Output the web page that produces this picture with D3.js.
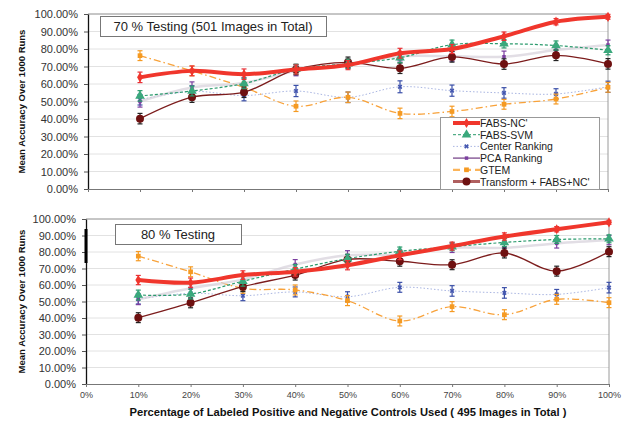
<!DOCTYPE html>
<html>
<head>
<meta charset="utf-8">
<script src="https://cdn.jsdelivr.net/npm/d3@7"></script>
<style>
  body { margin: 0; background: #fff; }
  svg { font-family: "Liberation Sans", Arial, sans-serif; }
</style>
</head>
<body>
<svg id="chart" width="622" height="421"></svg>
<script>
// ---- data ----
var xPercent = [10, 20, 30, 40, 50, 60, 70, 80, 90, 100];
var xTickValues = [0, 10, 20, 30, 40, 50, 60, 70, 80, 90, 100];
var yTickValues = [0, 10, 20, 30, 40, 50, 60, 70, 80, 90, 100];
var seriesNames = ["FABS-NC'", 'FABS-SVM', 'Center Ranking', 'PCA Ranking', 'GTEM', "Transform + FABS+NC'"];
var panelTitles = ['70 % Testing (501 Images in Total)', '80 % Testing'];
var xTitle = 'Percentage of Labeled Positive and Negative Controls Used ( 495 Images in Total )';
var yTitle = 'Mean Accuracy Over 1000 Runs';

// 70 % testing
var t70FabsNc     = [63.8, 67.5, 65.6, 68.3, 70.8, 77.6, 80.0, 87.3, 95.6, 98.4];
var t70FabsSvm    = [53.2, 56.0, 60.3, 68.5, 71.6, 75.0, 82.5, 83.0, 82.0, 79.3];
var t70Center     = [51.0, 55.8, 53.4, 56.0, 52.4, 58.4, 56.2, 54.9, 54.3, 58.4];
var t70Pca        = [50.0, 58.0, 60.6, 67.5, 71.6, 75.8, 75.8, 75.6, 79.4, 82.3];
var t70Gtem       = [76.2, 67.5, 58.1, 47.3, 52.4, 43.2, 44.3, 48.4, 51.4, 58.1];
var t70Transform  = [40.2, 52.5, 55.3, 68.3, 72.4, 69.0, 75.5, 71.4, 76.4, 71.5];
var t70ErrFabsNc    = [3.0, 2.8, 3.0, 2.6, 2.6, 2.8, 2.6, 2.4, 1.8, 1.4];
var t70ErrFabsSvm   = [3.0, 2.8, 3.0, 2.6, 2.6, 2.8, 2.6, 2.4, 2.6, 2.6];
var t70ErrCenter    = [3.0, 3.2, 3.0, 3.2, 3.0, 3.4, 3.2, 3.0, 3.0, 3.2];
var t70ErrPca       = [3.2, 3.2, 3.0, 2.8, 2.6, 2.6, 2.8, 3.2, 2.8, 2.8];
var t70ErrGtem      = [2.8, 2.8, 3.0, 3.0, 3.0, 3.0, 3.0, 2.8, 2.8, 2.8];
var t70ErrTransform = [3.0, 3.0, 3.0, 3.0, 3.0, 3.0, 3.0, 3.0, 3.0, 3.0];

// 80 % testing
var t80FabsNc     = [63.0, 61.4, 66.0, 68.0, 72.0, 78.0, 83.6, 89.4, 93.8, 98.0];
var t80FabsSvm    = [53.9, 54.5, 62.3, 69.6, 76.0, 80.4, 83.2, 85.8, 87.6, 88.0];
var t80Center     = [51.5, 55.0, 53.5, 55.8, 52.9, 58.6, 56.4, 55.2, 54.3, 58.4];
var t80Pca        = [51.3, 58.0, 63.4, 72.4, 78.0, 78.4, 82.5, 82.5, 85.2, 87.2];
var t80Gtem       = [77.5, 68.0, 58.0, 57.0, 50.5, 38.2, 46.9, 42.0, 51.3, 49.3];
var t80Transform  = [40.2, 49.2, 59.0, 66.0, 75.5, 74.4, 72.3, 79.4, 68.4, 80.2];
var t80ErrFabsNc    = [2.8, 2.8, 2.6, 2.6, 2.8, 2.6, 2.4, 2.2, 1.6, 1.2];
var t80ErrFabsSvm   = [3.0, 3.0, 3.0, 2.8, 2.6, 2.6, 2.4, 2.4, 2.4, 2.4];
var t80ErrCenter    = [3.0, 3.4, 3.0, 3.0, 3.0, 3.0, 3.2, 3.2, 3.0, 3.2];
var t80ErrPca       = [3.2, 3.2, 3.0, 3.0, 2.8, 2.8, 2.8, 3.0, 2.8, 2.8];
var t80ErrGtem      = [2.8, 3.0, 3.0, 3.0, 3.0, 3.0, 3.0, 3.0, 3.0, 3.0];
var t80ErrTransform = [3.0, 3.0, 3.0, 3.0, 3.0, 3.0, 3.0, 3.0, 3.0, 3.0];

// ---- styles ----
var styles = [
  { line: '#f0362c', width: 4,   dash: null,           opacity: 1,   marker: 'diamond',  mfill: '#f0362c', msize: 30, err: '#e8323a' },
  { line: '#2a9a6c', width: 1.2, dash: '3,2',          opacity: 1,   marker: 'triangle', mfill: '#3aa87c', msize: 40, err: '#2a9a6c' },
  { line: '#aab6e2', width: 1,   dash: '1.5,2',        opacity: 1,   marker: 'cross',    mfill: '#4457b0', msize: 14, err: '#3a4fa8' },
  { line: '#d6d0da', width: 2.5, dash: null,           opacity: 0.7, marker: 'square',   mfill: '#7b3fa0', msize: 12, err: '#7b3fa0' },
  { line: '#f8a23a', width: 1.3, dash: '7,3,1.5,3',    opacity: 1,   marker: 'square',   mfill: '#f59a22', msize: 22, err: '#f59a22' },
  { line: '#7c1c1c', width: 1.3, dash: null,           opacity: 1,   marker: 'circle',   mfill: '#6e1010', msize: 50, err: '#222222' }
];
var legendStyles = [
  { line: '#f0362c', width: 4 },
  { line: '#2a9a6c', width: 1, dash: '3,2' },
  { line: '#aab6e2', width: 1, dash: '1.5,2' },
  { line: '#7b4a8c', width: 1.3 },
  { line: '#fbb45a', width: 2.2, dash: '7,4' },
  { line: '#b06060', width: 3 }
];

var panels = [
  { title: panelTitles[0], left: 88, right: 608, top: 14, bottom: 189,
    titleBox: [100, 16, 226, 20], showXLabels: false, legend: true,
    values: [t70FabsNc, t70FabsSvm, t70Center, t70Pca, t70Gtem, t70Transform],
    errors: [t70ErrFabsNc, t70ErrFabsSvm, t70ErrCenter, t70ErrPca, t70ErrGtem, t70ErrTransform] },
  { title: panelTitles[1], left: 86, right: 609, top: 219, bottom: 384,
    titleBox: [115, 224, 126, 20], showXLabels: true, legend: false,
    values: [t80FabsNc, t80FabsSvm, t80Center, t80Pca, t80Gtem, t80Transform],
    errors: [t80ErrFabsNc, t80ErrFabsSvm, t80ErrCenter, t80ErrPca, t80ErrGtem, t80ErrTransform] }
];

var svg = d3.select('#chart');

function symbolFor(name) {
  if (name === 'diamond') return d3.symbolDiamond;
  if (name === 'triangle') return d3.symbolTriangle;
  if (name === 'square') return d3.symbolSquare;
  if (name === 'cross') return d3.symbolCross;
  return d3.symbolCircle;
}

// draw order: back to front
var drawOrder = [2, 4, 3, 5, 1, 0];

panels.forEach(function (p) {
  var x = d3.scaleLinear().domain([0, 100]).range([p.left, p.right]);
  var y = d3.scaleLinear().domain([0, 100]).range([p.bottom, p.top]);
  var g = svg.append('g');

  // gridlines
  g.selectAll('.grid').data(yTickValues.slice(1)).enter().append('line')
    .attr('x1', p.left).attr('x2', p.right)
    .attr('y1', function (d) { return y(d); }).attr('y2', function (d) { return y(d); })
    .attr('stroke', '#e2e2e2').attr('stroke-width', 1);

  // frame
  g.append('line').attr('x1', p.left).attr('x2', p.right).attr('y1', p.top).attr('y2', p.top)
    .attr('stroke', '#9a9a9a');
  g.append('line').attr('x1', p.right).attr('x2', p.right).attr('y1', p.top).attr('y2', p.bottom)
    .attr('stroke', '#9a9a9a');

  // y axis
  var yAxis = d3.axisLeft(y).tickValues(yTickValues).tickSize(4).tickSizeOuter(0)
    .tickFormat(function (d) { return d.toFixed(2) + '%'; });
  var ya = g.append('g').attr('transform', 'translate(' + p.left + ',0)').call(yAxis);
  ya.select('.domain').attr('stroke', '#111').attr('stroke-width', 1.3);
  ya.selectAll('.tick line').attr('stroke', '#555');
  ya.selectAll('text').attr('font-size', 11).attr('fill', '#333').attr('x', -10);

  // x axis
  var xAxis = d3.axisBottom(x).tickValues(xTickValues).tickSize(3).tickSizeOuter(0)
    .tickFormat(function (d) { return p.showXLabels ? d + '%' : ''; });
  var xa = g.append('g').attr('transform', 'translate(0,' + p.bottom + ')').call(xAxis);
  xa.select('.domain').attr('stroke', '#777');
  xa.selectAll('.tick line').attr('stroke', '#777');
  xa.selectAll('text').attr('font-size', 9).attr('fill', '#444').attr('y', 8);

  // title box
  g.append('rect').attr('x', p.titleBox[0] + 0.5).attr('y', p.titleBox[1] + 0.5)
    .attr('width', p.titleBox[2]).attr('height', p.titleBox[3])
    .attr('fill', '#fff').attr('stroke', '#777').attr('stroke-width', 1);
  g.append('text').attr('x', p.titleBox[0] + p.titleBox[2] / 2).attr('y', p.titleBox[1] + p.titleBox[3] / 2 + 5)
    .attr('text-anchor', 'middle').attr('font-size', 13).attr('fill', '#222').text(p.title);

  // y title
  g.append('text')
    .attr('transform', 'translate(25,' + ((p.top + p.bottom) / 2) + ') rotate(-90)')
    .attr('text-anchor', 'middle').attr('font-size', 9.5).attr('font-weight', 'bold').attr('fill', '#111')
    .text(yTitle);

  var line = d3.line()
    .x(function (d, i) { return x(xPercent[i]); })
    .y(function (d) { return y(d); })
    .curve(d3.curveCatmullRom.alpha(0.5));

  drawOrder.forEach(function (si) {
    var s = styles[si];
    var vals = p.values[si];
    var errs = p.errors[si];
    var sg = g.append('g');

    sg.append('path').datum(vals).attr('d', line)
      .attr('fill', 'none').attr('stroke', s.line).attr('stroke-width', s.width)
      .attr('stroke-opacity', s.opacity)
      .attr('stroke-dasharray', s.dash).attr('stroke-linejoin', 'round');

    // error bars
    var eb = sg.selectAll('.eb').data(vals).enter().append('g').attr('stroke', s.err).attr('stroke-width', 1.2);
    eb.append('line')
      .attr('x1', function (d, i) { return x(xPercent[i]); })
      .attr('x2', function (d, i) { return x(xPercent[i]); })
      .attr('y1', function (d, i) { return y(d + errs[i]); })
      .attr('y2', function (d, i) { return y(d - errs[i]); });
    eb.append('line')
      .attr('x1', function (d, i) { return x(xPercent[i]) - 2.5; })
      .attr('x2', function (d, i) { return x(xPercent[i]) + 2.5; })
      .attr('y1', function (d, i) { return y(d + errs[i]); })
      .attr('y2', function (d, i) { return y(d + errs[i]); });
    eb.append('line')
      .attr('x1', function (d, i) { return x(xPercent[i]) - 2.5; })
      .attr('x2', function (d, i) { return x(xPercent[i]) + 2.5; })
      .attr('y1', function (d, i) { return y(d - errs[i]); })
      .attr('y2', function (d, i) { return y(d - errs[i]); });

    // markers
    sg.selectAll('.mk').data(vals).enter().append('path')
      .attr('d', d3.symbol().type(symbolFor(s.marker)).size(s.msize))
      .attr('transform', function (d, i) { return 'translate(' + x(xPercent[i]) + ',' + y(d) + ')' + (s.marker === 'cross' ? ' rotate(45)' : ''); })
      .attr('fill', s.mfill);
  });

  // legend
  if (p.legend) {
    var lg = g.append('g').attr('transform', 'translate(440,117)');
    lg.append('rect').attr('x', 0.5).attr('y', 0.5).attr('width', 159).attr('height', 72)
      .attr('fill', '#fff').attr('stroke', '#999');
    seriesNames.forEach(function (name, i) {
      var ly = 6 + i * 11.7;
      var ls = legendStyles[i];
      var s = styles[i];
      lg.append('line').attr('x1', 13).attr('x2', 40).attr('y1', ly).attr('y2', ly)
        .attr('stroke', ls.line).attr('stroke-width', ls.width).attr('stroke-dasharray', ls.dash || null);
      lg.append('path').attr('d', d3.symbol().type(symbolFor(s.marker)).size(s.msize))
        .attr('transform', 'translate(26.5,' + ly + ')' + (s.marker === 'cross' ? ' rotate(45)' : ''))
        .attr('fill', s.mfill);
      lg.append('text').attr('x', 40).attr('y', ly + 4).attr('font-size', 10.5).attr('fill', '#222').text(name);
    });
  }
});

// dark mark on the left axis of the lower panel
svg.append('rect').attr('x', 84.5).attr('y', 229).attr('width', 3).attr('height', 34).attr('fill', '#000');

// x title
svg.append('text').attr('x', 348).attr('y', 416).attr('text-anchor', 'middle')
  .attr('font-size', 11.2).attr('font-weight', 'bold').attr('fill', '#111').text(xTitle);
</script>
</body>
</html>
